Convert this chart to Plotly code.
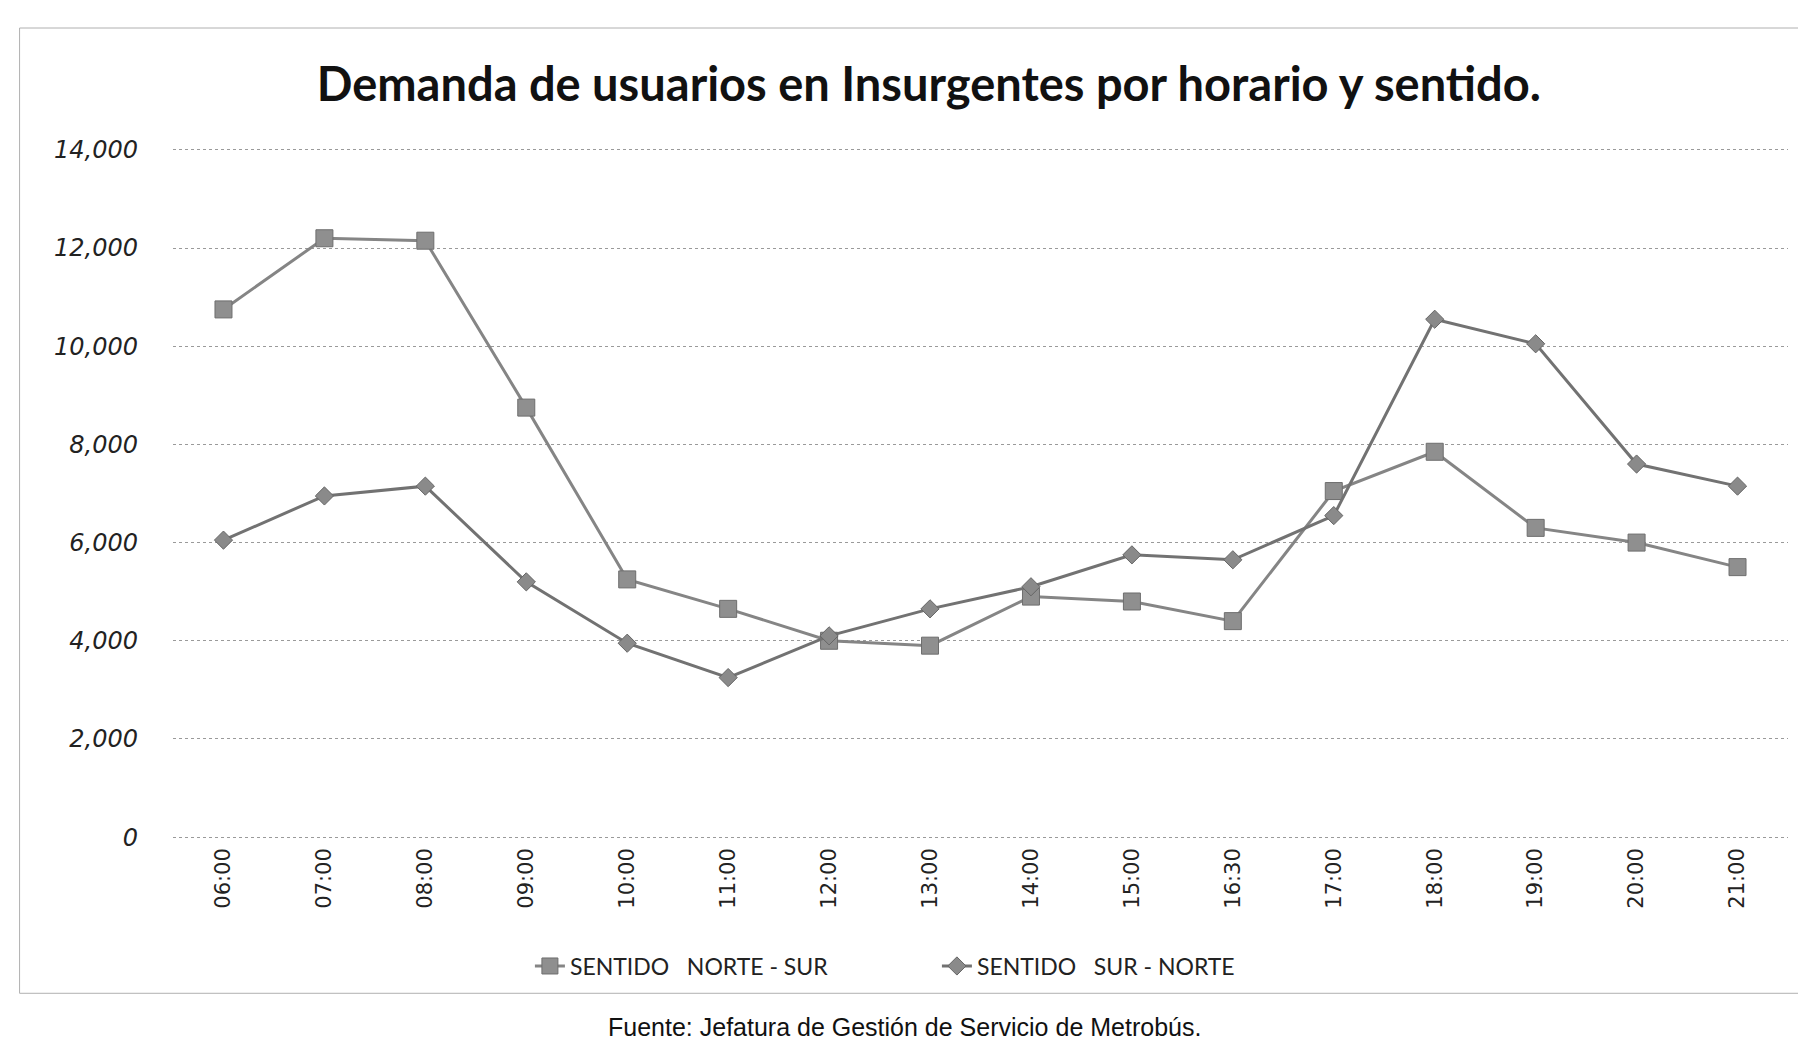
import plotly.graph_objects as go

horarios = ["06:00", "07:00", "08:00", "09:00", "10:00", "11:00", "12:00", "13:00",
            "14:00", "15:00", "16:30", "17:00", "18:00", "19:00", "20:00", "21:00"]
norte_sur = [10750, 12200, 12150, 8750, 5250, 4650, 4000, 3900,
             4900, 4800, 4400, 7050, 7850, 6300, 6000, 5500]
sur_norte = [6050, 6950, 7150, 5200, 3950, 3250, 4100, 4650,
             5100, 5750, 5650, 6550, 10550, 10050, 7600, 7150]
y_ticks = [0, 2000, 4000, 6000, 8000, 10000, 12000, 14000]
y_labels = ["0", "2,000", "4,000", "6,000", "8,000", "10,000", "12,000", "14,000"]

HUMAN = "Lato, Liberation Sans, Arial, sans-serif"

fig = go.Figure()
fig.add_trace(go.Scatter(
    x=horarios, y=norte_sur, mode="lines+markers",
    name="SENTIDO   NORTE - SUR",
    line=dict(color="#858585", width=3),
    marker=dict(symbol="square", size=17, color="#8f8f8f",
                line=dict(color="#6e6e6e", width=1)),
))
fig.add_trace(go.Scatter(
    x=horarios, y=sur_norte, mode="lines+markers",
    name="SENTIDO   SUR - NORTE",
    line=dict(color="#727272", width=3),
    marker=dict(symbol="diamond", size=14, color="#8a8a8a",
                line=dict(color="#666666", width=1)),
))

fig.update_layout(
    width=1806, height=1043,
    paper_bgcolor="white", plot_bgcolor="white",
    margin=dict(l=165, r=26, t=136, b=208),
    title=dict(
        text="<b>Demanda de usuarios en Insurgentes por horario y sentido.</b>",
        x=0.468, xanchor="center", xref="paper",
        y=0.927, yanchor="middle", yref="container",
        font=dict(family=HUMAN, size=47, color="#111111"),
    ),
    showlegend=True,
    legend=dict(
        orientation="h", x=0.221, xanchor="left", y=-0.176, yanchor="middle",
        font=dict(family=HUMAN, size=23, color="#222222"),
        entrywidth=362, entrywidthmode="pixels",
        bgcolor="rgba(0,0,0,0)",
    ),
    xaxis=dict(
        type="category", range=[-0.5, 15.5],
        showgrid=False, showline=False, zeroline=False,
        ticks="", tickangle=-90,
        tickfont=dict(family="DejaVu Sans", size=21, color="#222222"),
    ),
    yaxis=dict(
        range=[-120, 14120], tickmode="array", tickvals=y_ticks, ticktext=y_labels,
        showgrid=True, gridcolor="#9a9a9a", griddash="dot", gridwidth=1,
        zeroline=False, showline=False, ticks="", ticklabelstandoff=34,
        tickfont=dict(family="DejaVu Sans", size=24, color="#222222", style="italic"),
    ),
    annotations=[dict(
        text="Fuente: Jefatura de Gestión de Servicio de Metrobús.",
        xref="paper", yref="paper", x=0.453, y=-(1019 - 835) / 699,
        xanchor="center", yanchor="middle", showarrow=False,
        font=dict(family="Liberation Sans, Arial, sans-serif", size=25, color="#111111"),
    )],
    shapes=[dict(
        type="rect", xref="paper", yref="paper",
        x0=-0.095, x1=1.02,
        y0=-0.215, y1=1 + 116 / 699,
        line=dict(color="#b0b0b0", width=1), fillcolor="rgba(0,0,0,0)",
    )],
)

fig.write_html("out.html")
